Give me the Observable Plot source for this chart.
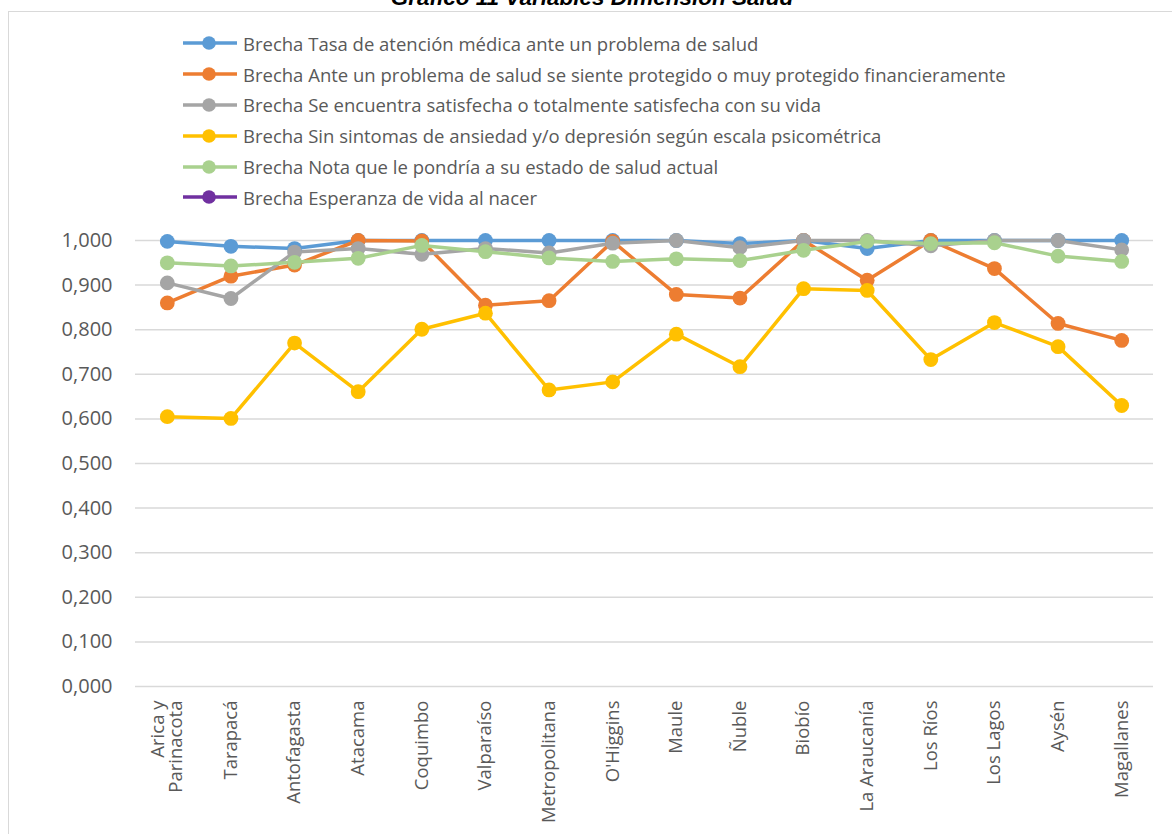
<!DOCTYPE html>
<html>
<head>
<meta charset="utf-8">
<script src="https://cdn.jsdelivr.net/npm/d3@7"></script>
<script src="https://cdn.jsdelivr.net/npm/@observablehq/plot@0.6"></script>
<style>
  html, body { margin: 0; padding: 0; background: #fff; width: 1172px; height: 834px; overflow: hidden; }
  #title { position: absolute; left: 0; width: 1184px; top: -15px; text-align: center; font-family: "Liberation Sans", "DejaVu Sans", sans-serif; font-weight: bold; font-style: italic; font-size: 22.5px; color: #000; line-height: 26px; white-space: nowrap; }
  #frame { position: absolute; left: 8px; top: 11px; width: 1180px; height: 824px; border: 1.5px solid #d9d9d9; box-sizing: border-box; }
  #legend { position: absolute; left: 183px; top: 28px; font-family: "Open Sans", sans-serif; font-size: 18.5px; color: #595959; }
  .row { display: flex; align-items: center; height: 30.8px; white-space: nowrap; }
  .row svg { margin-right: 6px; }
  #chart { position: absolute; left: 0; top: 220px; }
</style>
</head>
<body>
<div id="title">Gráfico 11 Variables Dimensión Salud</div>
<div id="frame"></div>
<div id="legend"></div>
<div id="chart"></div>
<script>
const regiones = ["Arica y\nParinacota", "Tarapacá", "Antofagasta", "Atacama", "Coquimbo", "Valparaíso", "Metropolitana", "O'Higgins", "Maule", "Ñuble", "Biobío", "La Araucanía", "Los Ríos", "Los Lagos", "Aysén", "Magallanes"];

const serieNombres = [
  "Brecha Tasa de atención médica ante un problema de salud",
  "Brecha Ante un problema de salud se siente protegido o muy protegido financieramente",
  "Brecha Se encuentra satisfecha o totalmente satisfecha con su vida",
  "Brecha Sin sintomas de ansiedad y/o depresión según escala psicométrica",
  "Brecha Nota que le pondría a su estado de salud actual",
  "Brecha Esperanza de vida al nacer"
];
const serieColores = ["#5B9BD5", "#ED7D31", "#A5A5A5", "#FFC000", "#A9D18E", "#7030A0"];

const tasaAtencion   = [0.998, 0.987, 0.982, 1.000, 1.000, 1.000, 1.000, 1.000, 1.000, 0.993, 1.000, 0.982, 1.000, 1.000, 1.000, 1.000];
const protegido      = [0.860, 0.920, 0.945, 1.000, 0.999, 0.855, 0.865, 0.998, 0.879, 0.871, 1.000, 0.911, 1.000, 0.937, 0.814, 0.776];
const satisfecha     = [0.905, 0.870, 0.974, 0.982, 0.969, 0.982, 0.972, 0.994, 1.000, 0.984, 1.000, 1.000, 0.988, 1.000, 1.000, 0.979];
const sinSintomas    = [0.605, 0.601, 0.770, 0.661, 0.801, 0.837, 0.665, 0.683, 0.790, 0.717, 0.892, 0.888, 0.733, 0.816, 0.762, 0.630];
const notaSalud      = [0.950, 0.943, 0.951, 0.960, 0.989, 0.975, 0.961, 0.953, 0.959, 0.955, 0.978, 0.998, 0.993, 0.995, 0.965, 0.953];
const esperanzaVida  = []; // sin valores visibles en el gráfico

const yTicks = [0, 0.1, 0.2, 0.3, 0.4, 0.5, 0.6, 0.7, 0.8, 0.9, 1.0];

const seriesValores = [tasaAtencion, protegido, satisfecha, sinSintomas, notaSalud, esperanzaVida];
const data = [];
seriesValores.forEach((vals, si) => {
  vals.forEach((v, i) => data.push({serie: serieNombres[si], region: regiones[i], value: v}));
});

// Legend
const legend = document.getElementById("legend");
serieNombres.forEach((n, i) => {
  const row = document.createElement("div");
  row.className = "row";
  row.innerHTML = `<svg width="54" height="16"><line x1="0" x2="54" y1="8" y2="8" stroke="${serieColores[i]}" stroke-width="3.5"/><circle cx="26" cy="8" r="6.8" fill="${serieColores[i]}"/></svg><span>${n}</span>`;
  legend.appendChild(row);
});

const fmt = d => d.toFixed(3).replace(".", ",");

const plot = Plot.plot({
  width: 1172,
  height: 614,
  marginTop: 20,
  marginBottom: 148,
  marginLeft: 135,
  marginRight: 19,
  style: {fontFamily: "'Open Sans', sans-serif", color: "#595959", background: "transparent"},
  x: {type: "point", domain: regiones, padding: 0.5, round: false, label: null},
  y: {domain: [0, 1], label: null},
  color: {domain: serieNombres, range: serieColores},
  marks: [
    Plot.ruleY(yTicks, {stroke: "#d9d9d9", strokeWidth: 1.5}),
    Plot.axisY(yTicks, {tickSize: 0, tickPadding: 23, tickFormat: fmt, fontSize: 20, fill: "#595959", label: null}),
    Plot.axisX({tickSize: 0, tickPadding: 14, tickRotate: -90, fontSize: 18.5, fill: "#595959", label: null}),
    Plot.line(data, {x: "region", y: "value", z: "serie", stroke: "serie", strokeWidth: 3.5, strokeLinejoin: "round"}),
    Plot.dot(data, {x: "region", y: "value", fill: "serie", r: 7.4})
  ]
});
document.getElementById("chart").appendChild(plot);
</script>
</body>
</html>
